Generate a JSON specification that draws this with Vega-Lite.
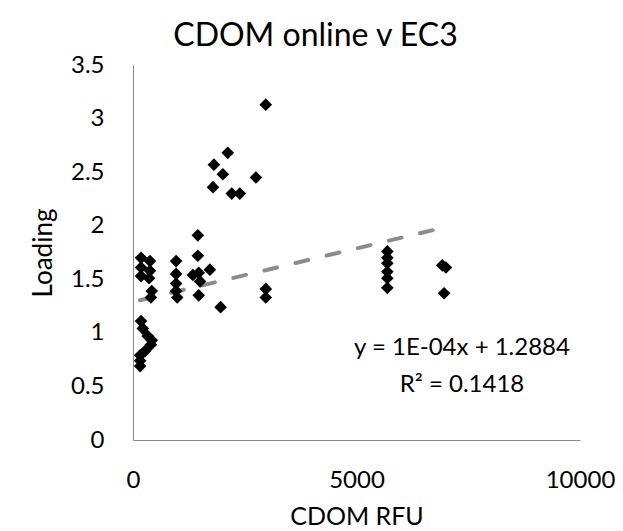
{
  "$schema": "https://vega.github.io/schema/vega-lite/v6.json",
  "autosize": "none",
  "width": 447,
  "height": 375,
  "padding": {"left": 133, "top": 65, "right": 43, "bottom": 91},
  "background": "white",
  "config": {
    "view": {"stroke": null},
    "font": "Lato",
    "axis": {"grid": false, "ticks": false, "domainColor": "#888888", "domainWidth": 1, "labelFont": "Lato", "labelFontSize": 24, "labelColor": "#000000", "titleFont": "Lato", "titleFontSize": 26, "titleFontWeight": "normal", "titleColor": "#000000"}
  },
  "title": {"text": "CDOM online v EC3", "font": "Lato", "fontSize": 32, "fontWeight": "normal", "color": "#000000", "anchor": "middle", "dx": -41, "dy": 12, "offset": 12},
  "datasets": {
    "points": [
      {"cdom": 180, "loading": 1.70}, {"cdom": 380, "loading": 1.67}, {"cdom": 180, "loading": 1.61}, {"cdom": 380, "loading": 1.58},
      {"cdom": 180, "loading": 1.53}, {"cdom": 360, "loading": 1.51}, {"cdom": 420, "loading": 1.39}, {"cdom": 400, "loading": 1.33},
      {"cdom": 180, "loading": 1.11}, {"cdom": 220, "loading": 1.04}, {"cdom": 330, "loading": 0.97}, {"cdom": 420, "loading": 0.93},
      {"cdom": 400, "loading": 0.89}, {"cdom": 270, "loading": 0.83}, {"cdom": 160, "loading": 0.79}, {"cdom": 160, "loading": 0.74},
      {"cdom": 160, "loading": 0.69},
      {"cdom": 964, "loading": 1.67}, {"cdom": 964, "loading": 1.55}, {"cdom": 964, "loading": 1.46}, {"cdom": 964, "loading": 1.39}, {"cdom": 990, "loading": 1.33},
      {"cdom": 1450, "loading": 1.72}, {"cdom": 1450, "loading": 1.91}, {"cdom": 1340, "loading": 1.54}, {"cdom": 1470, "loading": 1.56},
      {"cdom": 1500, "loading": 1.48}, {"cdom": 1720, "loading": 1.59}, {"cdom": 1470, "loading": 1.35}, {"cdom": 1960, "loading": 1.24},
      {"cdom": 2970, "loading": 3.13}, {"cdom": 2120, "loading": 2.68}, {"cdom": 1810, "loading": 2.57}, {"cdom": 2010, "loading": 2.48},
      {"cdom": 1790, "loading": 2.36}, {"cdom": 2210, "loading": 2.30}, {"cdom": 2390, "loading": 2.30}, {"cdom": 2750, "loading": 2.45},
      {"cdom": 2970, "loading": 1.41}, {"cdom": 2970, "loading": 1.33},
      {"cdom": 5690, "loading": 1.76}, {"cdom": 5690, "loading": 1.70}, {"cdom": 5690, "loading": 1.65}, {"cdom": 5690, "loading": 1.57},
      {"cdom": 5690, "loading": 1.51}, {"cdom": 5690, "loading": 1.42},
      {"cdom": 6920, "loading": 1.63}, {"cdom": 7000, "loading": 1.61}, {"cdom": 6960, "loading": 1.37}
    ],
    "trend": [
      {"cdom": 156, "loading": 1.304},
      {"cdom": 7000, "loading": 1.988}
    ],
    "labels": [
      {"cdom": 7360, "loading": 0.79, "text": "y = 1E-04x + 1.2884"},
      {"cdom": 7360, "loading": 0.45, "text": "R² = 0.1418"}
    ]
  },
  "layer": [
    {
      "data": {"name": "trend"},
      "mark": {"type": "line", "color": "#8c8c8c", "strokeWidth": 4, "strokeDash": [13, 19], "strokeCap": "round"},
      "encoding": {
        "x": {"field": "cdom", "type": "quantitative", "scale": {"domain": [0, 10000]}, "axis": {"title": "CDOM RFU", "values": [0, 5000, 10000], "format": "d", "labelPadding": 28, "titlePadding": 12, "titleFontSize": 25, "labelFlush": false}},
        "y": {"field": "loading", "type": "quantitative", "scale": {"domain": [0, 3.5]}, "axis": {"title": "Loading", "values": [0, 0.5, 1, 1.5, 2, 2.5, 3, 3.5], "format": "~g", "labelPadding": 29, "titlePadding": 14}}
      }
    },
    {
      "data": {"name": "points"},
      "mark": {"type": "point", "shape": "diamond", "filled": true, "color": "#000000", "opacity": 1, "size": 160},
      "encoding": {
        "x": {"field": "cdom", "type": "quantitative"},
        "y": {"field": "loading", "type": "quantitative"}
      }
    },
    {
      "data": {"name": "labels"},
      "mark": {"type": "text", "font": "Lato", "fontSize": 24, "color": "#000000", "align": "center", "baseline": "alphabetic"},
      "encoding": {
        "x": {"field": "cdom", "type": "quantitative"},
        "y": {"field": "loading", "type": "quantitative"},
        "text": {"field": "text"}
      }
    }
  ]
}
